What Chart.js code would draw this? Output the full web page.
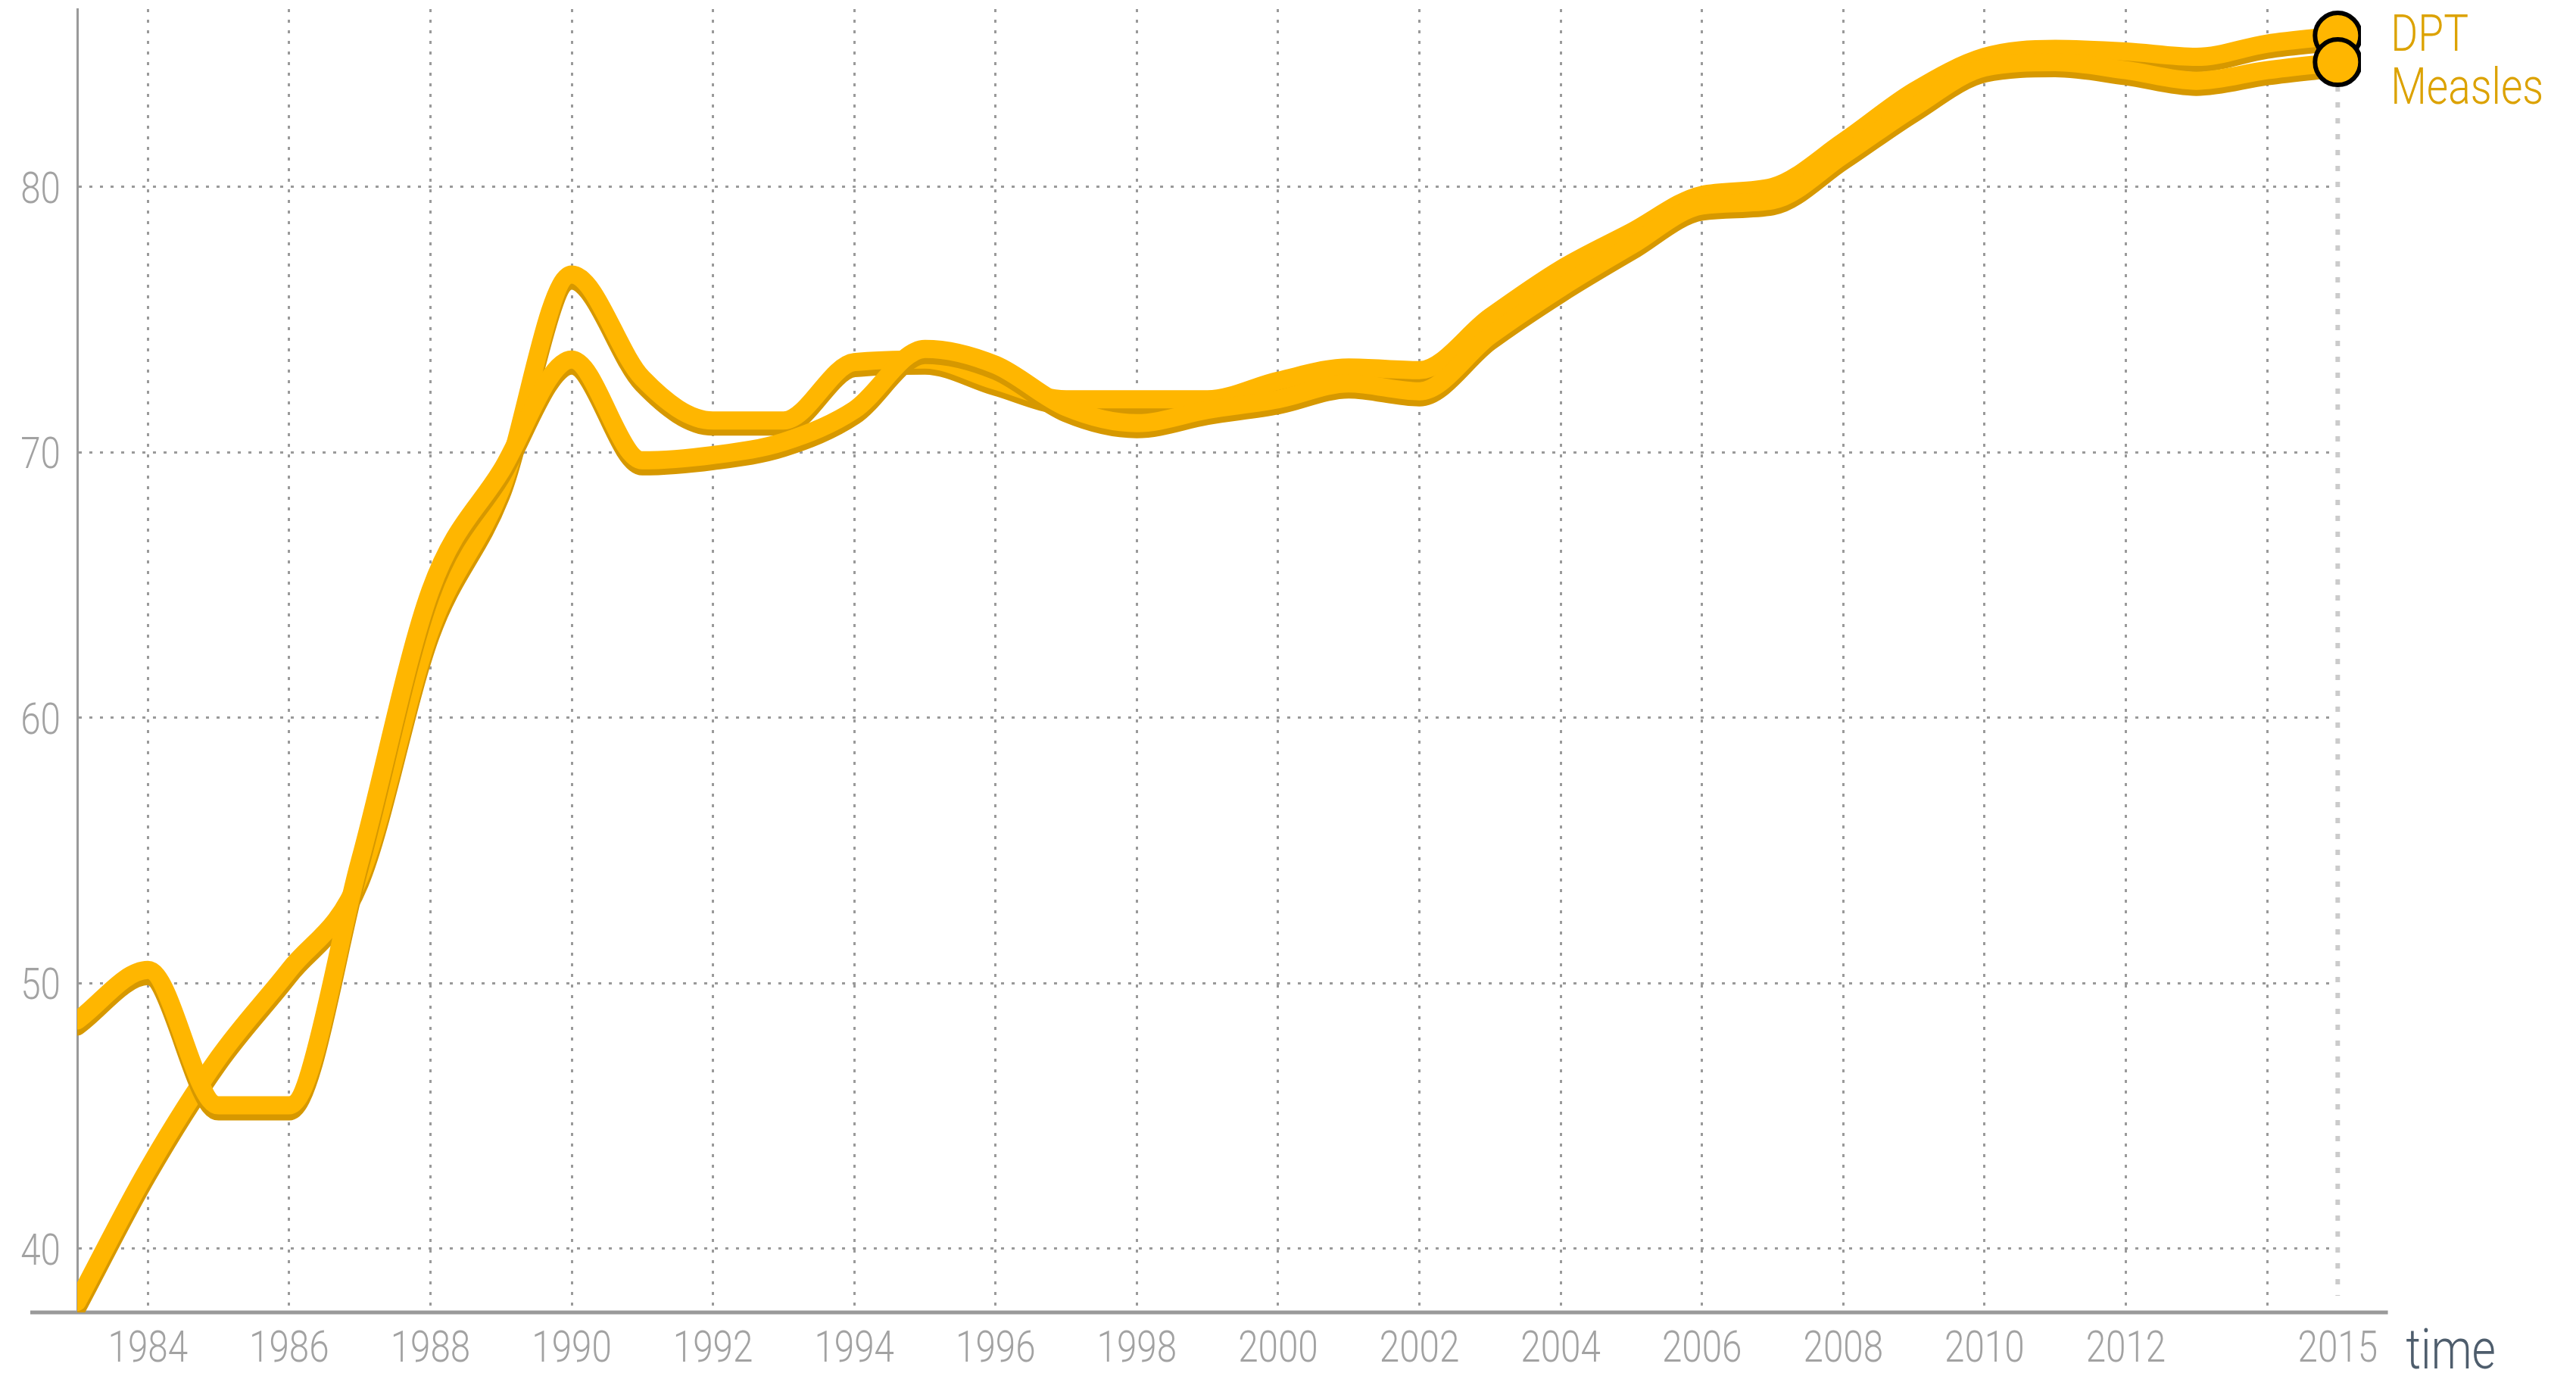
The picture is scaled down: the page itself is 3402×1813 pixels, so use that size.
<!DOCTYPE html>
<html>
<head>
<meta charset="utf-8">
<title>DPT and Measles immunization</title>
<script src="https://cdn.jsdelivr.net/npm/chart.js@4.4.1/dist/chart.umd.min.js"></script>
<style>
  html, body { margin: 0; padding: 0; background: #fff; overflow: hidden; }
  canvas { display: block; }
</style>
</head>
<body>
<canvas id="chart" width="3402" height="1813"></canvas>
<script>
// values
const years = [1983, 1984, 1985, 1986, 1987, 1988, 1989, 1990, 1991, 1992, 1993,
  1994, 1995, 1996, 1997, 1998, 1999, 2000, 2001, 2002, 2003, 2004, 2005, 2006,
  2007, 2008, 2009, 2010, 2011, 2012, 2013, 2014, 2015];
const dpt = [38.0, 43.0, 47.2, 50.5, 54.0, 63.3, 68.6, 76.7, 72.8, 71.2, 71.2,
  73.4, 73.5, 72.7, 72.0, 72.0, 72.0, 72.7, 73.2, 73.1, 75.1, 76.9, 78.3, 79.7,
  80.0, 81.7, 83.6, 84.9, 85.2, 85.1, 84.9, 85.4, 85.7];
const measles = [48.6, 50.5, 45.4, 45.4, 54.6, 64.8, 69.3, 73.5, 69.7, 69.9, 70.4,
  71.6, 73.9, 73.3, 71.7, 71.1, 71.6, 72.0, 72.6, 72.3, 74.4, 76.2, 77.8, 79.3,
  79.5, 81.2, 83.0, 84.5, 84.7, 84.4, 84.0, 84.4, 84.7];
const seriesNames = ['DPT', 'Measles'];
const xTicks = [1984, 1986, 1988, 1990, 1992, 1994, 1996, 1998, 2000, 2002, 2004,
  2006, 2008, 2010, 2012, 2014, 2015];
const xLabels = ['1984', '1986', '1988', '1990', '1992', '1994', '1996', '1998',
  '2000', '2002', '2004', '2006', '2008', '2010', '2012', '', '2015'];
const yTicks = [40, 50, 60, 70, 80];
const yLabels = ['40', '50', '60', '70', '80'];
const axisTitle = 'time';

const FONT = "Roboto, 'Open Sans', sans-serif";
const SQUEEZE = 0.82;          // the original face is a narrow one
const LINE = '#ffb600';
const GRID = '#9a9a9a';
const lastYear = years[years.length - 1];
const axisEnd = 2015.71;       // the x axis line runs a bit past the last year
const OVER = { left: 0, top: 40, right: 40, bottom: 0 };

const toPoints = arr => arr.map((v, i) => ({ x: years[i], y: v }));

function narrowText(ctx, text, x, y, align) {
  ctx.save();
  ctx.translate(x, y);
  ctx.scale(SQUEEZE, 1);
  ctx.textAlign = align;
  ctx.fillText(text, 0, 0);
  ctx.restore();
}

// darker copy of each line, drawn a few px lower just before the line itself
const shadowPlugin = {
  id: 'lineShadow',
  beforeDatasetDraw(chart, args) {
    const line = args.meta.dataset;
    if (!line) return;
    const { ctx, chartArea: a } = chart;
    ctx.save();
    ctx.beginPath();
    ctx.rect(a.left, a.top - OVER.top, a.right - a.left + OVER.right, a.bottom - a.top + OVER.top);
    ctx.clip();
    ctx.translate(0, 8);
    ctx.filter = 'brightness(0.84)';
    line.draw(ctx, a);
    ctx.restore();
  }
};

const extrasPlugin = {
  id: 'extras',
  beforeDatasetsDraw(chart) {
    const { ctx, chartArea: a } = chart;
    const xs = chart.scales.x;
    ctx.save();
    // x axis runs past the y axis on the left and past the last year on the right
    ctx.strokeStyle = GRID;
    ctx.lineWidth = 5;
    ctx.beginPath();
    ctx.moveTo(a.left - 62, a.bottom);
    ctx.lineTo(xs.getPixelForValue(axisEnd), a.bottom);
    ctx.stroke();
    // light dashed marker at the current year
    const x = xs.getPixelForValue(lastYear);
    ctx.strokeStyle = '#cbcbcb';
    ctx.lineWidth = 6;
    ctx.setLineDash([7, 14]);
    ctx.beginPath();
    ctx.moveTo(x, a.top + 60);
    ctx.lineTo(x, a.bottom - 22);
    ctx.stroke();
    ctx.restore();
  },
  afterDraw(chart) {
    const { ctx, chartArea: a } = chart;
    const xs = chart.scales.x;
    const ys = chart.scales.y;
    ctx.save();
    // tick labels
    ctx.fillStyle = '#a2a2a2';
    ctx.font = '300 58px ' + FONT;
    ctx.textBaseline = 'alphabetic';
    xTicks.forEach((v, i) => {
      if (xLabels[i]) narrowText(ctx, xLabels[i], xs.getPixelForValue(v), a.bottom + 65, 'center');
    });
    yTicks.forEach((v, i) => {
      narrowText(ctx, yLabels[i], a.left - 22, ys.getPixelForValue(v) + 21, 'right');
    });

    // axis title
    ctx.fillStyle = '#4e5d6c';
    ctx.font = '300 74px ' + FONT;
    narrowText(ctx, axisTitle, xs.getPixelForValue(axisEnd) + 24, chart.height - 6, 'left');

    // end labels next to the bubbles, pushed apart when they collide
    const labels = chart.data.datasets.map((ds, i) => {
      const meta = chart.getDatasetMeta(i);
      const pt = meta.data[meta.data.length - 1];
      return { text: ds.label, x: pt.x + 70, y: pt.y - 4 };
    }).sort((p, q) => p.y - q.y);
    for (let i = 1; i < labels.length; i++) {
      if (labels[i].y - labels[i - 1].y < 70) labels[i].y = labels[i - 1].y + 70;
    }
    ctx.fillStyle = '#dca200';
    ctx.font = '300 67px ' + FONT;
    labels.forEach(l => narrowText(ctx, l.text, l.x, l.y + 24, 'left'));
    ctx.restore();
  }
};

const lastPointRadius = c => (c.dataIndex === years.length - 1 ? 30 : 0);

function lineSet(name, values, order) {
  return {
    label: name,
    data: toPoints(values),
    order: order,
    borderColor: LINE,
    backgroundColor: LINE,
    borderWidth: 24,
    borderCapStyle: 'round',
    borderJoinStyle: 'round',
    cubicInterpolationMode: 'monotone',
    pointRadius: lastPointRadius,
    pointBackgroundColor: LINE,
    pointBorderColor: '#000',
    pointBorderWidth: 6,
    clip: OVER,
    fill: false
  };
}

new Chart(document.getElementById('chart'), {
  type: 'line',
  data: {
    datasets: [
      lineSet(seriesNames[0], dpt, 2),
      lineSet(seriesNames[1], measles, 1)
    ]
  },
  options: {
    responsive: false,
    animation: false,
    devicePixelRatio: 1,
    events: [],
    layout: { autoPadding: false, padding: { top: 12, right: 324, bottom: 0, left: 0 } },
    plugins: {
      legend: { display: false },
      tooltip: { enabled: false },
      title: { display: false }
    },
    scales: {
      x: {
        type: 'linear',
        min: 1983,
        max: 2014.9,
        afterBuildTicks: s => { s.ticks = xTicks.map(v => ({ value: v })); },
        afterFit: s => { s.height = 80; s.paddingLeft = 0; s.paddingRight = 0; },
        ticks: { display: false, autoSkip: false },
        grid: {
          drawTicks: false,
          lineWidth: 3,
          color: c => (c.tick && c.tick.value === lastYear ? 'rgba(0,0,0,0)' : GRID),
          borderDash: [4, 10]
        },
        border: { display: false, dash: [4, 10] }
      },
      y: {
        min: 37.6,
        max: 86.7,
        afterBuildTicks: s => { s.ticks = yTicks.map(v => ({ value: v })); },
        afterFit: s => { s.width = 102; s.paddingTop = 0; s.paddingBottom = 0; },
        ticks: { display: false },
        grid: {
          drawTicks: false,
          lineWidth: 3,
          color: GRID,
          borderDash: [4, 10]
        },
        border: { display: true, color: GRID, width: 3, dash: [4, 10] }
      }
    }
  },
  plugins: [shadowPlugin, extrasPlugin]
});
</script>
</body>
</html>
